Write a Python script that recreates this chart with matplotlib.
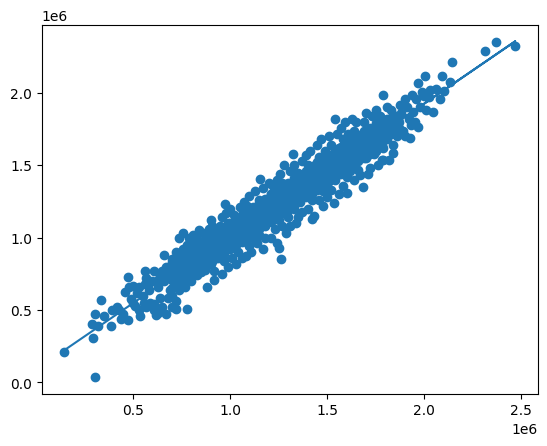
import matplotlib
matplotlib.use("Agg")
import matplotlib.pyplot as plt
import numpy as np

# points, in millions (x, y)
low_pts = [
    (0.147, 0.208), (0.303, 0.035), (0.297, 0.306), (0.289, 0.405), (0.306, 0.475),
    (0.335, 0.572), (0.321, 0.391), (0.353, 0.456), (0.385, 0.391), (0.392, 0.498),
    (0.416, 0.521), (0.437, 0.440), (0.473, 0.729), (0.475, 0.433), (0.461, 0.623),
    (0.491, 0.579), (0.500, 0.549), (0.500, 0.664), (0.539, 0.461), (0.563, 0.769),
    (0.557, 0.549), (0.581, 0.641), (0.608, 0.769), (0.608, 0.502), (0.620, 0.468),
    (0.430, 0.500), (0.450, 0.470), (0.520, 0.620), (0.530, 0.660), (0.550, 0.600),
    (0.570, 0.720), (0.590, 0.550), (0.600, 0.700), (0.630, 0.660),
    (0.640, 0.730), (0.480, 0.660), (0.510, 0.530),
    (0.580, 0.670), (0.630, 0.710),
    (0.640, 0.580), (0.650, 0.520), (0.610, 0.540), (0.560, 0.680),
    (0.530, 0.500), (0.570, 0.520), (0.630, 0.480), (0.650, 0.770),
]

mid_pts = [
    (0.66, 0.88), (0.67, 0.80), (0.68, 0.74), (0.66, 0.70), (0.69, 0.64), (0.68, 0.58),
    (0.70, 0.52), (0.67, 0.47), (0.70, 0.85), (0.69, 0.78), (0.71, 0.70), (0.70, 0.60),
    (0.72, 0.90), (0.74, 1.00), (0.73, 0.84), (0.75, 0.78), (0.72, 0.72), (0.76, 0.70),
    (0.74, 0.64), (0.72, 0.56), (0.72, 0.51), (0.78, 0.51), (0.76, 0.92), (0.75, 0.86),
    (0.77, 0.66), (0.76, 1.03), (0.79, 1.00), (0.78, 0.95), (0.80, 0.90), (0.79, 0.84),
    (0.81, 0.78), (0.78, 0.74), (0.80, 0.70), (0.82, 0.96), (0.81, 1.02), (0.80, 0.83),
    (0.83, 0.74), (0.84, 1.05), (0.86, 1.03), (0.83, 0.99), (0.85, 0.93), (0.86, 0.87),
    (0.84, 0.82), (0.87, 0.78), (0.85, 0.76), (0.88, 0.66), (0.87, 0.98), (0.86, 0.91),
    (0.88, 0.83), (0.89, 1.06), (0.90, 1.12), (0.91, 1.08), (0.89, 1.00), (0.92, 0.95),
    (0.90, 0.90), (0.93, 0.86), (0.90, 0.82), (0.92, 0.77), (0.92, 0.71), (0.94, 1.02),
    (0.93, 0.92), (0.91, 0.84), (0.96, 1.14), (0.975, 1.23), (0.98, 1.17), (0.95, 1.08),
    (0.97, 1.02), (0.96, 0.96), (0.98, 0.92), (0.95, 0.88), (0.97, 0.84), (0.96, 0.75),
    (0.99, 0.80), (0.99, 1.10), (0.98, 0.99), (1.00, 1.20), (1.02, 1.16), (1.01, 1.10),
    (1.03, 1.04), (1.00, 1.00), (1.02, 0.95), (1.04, 0.90), (1.01, 0.86), (1.03, 0.82),
    (1.05, 1.21), (1.04, 1.12), (1.05, 0.98), (1.06, 0.86), (1.07, 1.25), (1.09, 1.22),
    (1.08, 1.15), (1.06, 1.08), (1.09, 1.03), (1.07, 0.98), (1.10, 0.94), (1.08, 0.87),
    (1.10, 1.29), (1.11, 1.12), (1.12, 1.00), (1.11, 0.90), (1.13, 1.32), (1.154, 1.405),
    (1.15, 1.26), (1.14, 1.20), (1.16, 1.14), (1.13, 1.08), (1.15, 1.02), (1.14, 0.96),
    (1.17, 0.92), (1.17, 1.34), (1.18, 1.23), (1.17, 1.10), (1.18, 1.00), (1.20, 1.38),
    (1.22, 1.36), (1.21, 1.30), (1.19, 1.25), (1.22, 1.18), (1.20, 1.12), (1.23, 1.06),
    (1.21, 1.00), (1.24, 0.96), (1.253, 0.926), (1.265, 0.85), (1.24, 1.40), (1.23, 1.24),
    (1.25, 1.12),
]

upper_pts = [
    (1.26, 1.44), (1.28, 1.50), (1.27, 1.38), (1.29, 1.32), (1.26, 1.28), (1.28, 1.20),
    (1.30, 1.14), (1.27, 1.08), (1.29, 1.03), (1.31, 1.46), (1.30, 1.26), (1.31, 1.08),
    (1.324, 1.58), (1.33, 1.50), (1.35, 1.45), (1.32, 1.38), (1.34, 1.32), (1.36, 1.26),
    (1.33, 1.20), (1.35, 1.14), (1.34, 1.10), (1.37, 1.53), (1.37, 1.40), (1.37, 1.18),
    (1.39, 1.57), (1.41, 1.60), (1.40, 1.50), (1.38, 1.44), (1.41, 1.38), (1.39, 1.32),
    (1.42, 1.26), (1.40, 1.20), (1.43, 1.15), (1.42, 1.13), (1.43, 1.46), (1.44, 1.34),
    (1.45, 1.64), (1.47, 1.68), (1.46, 1.56), (1.44, 1.50), (1.47, 1.44), (1.45, 1.38),
    (1.48, 1.32), (1.46, 1.26), (1.48, 1.22), (1.49, 1.60), (1.49, 1.48), (1.50, 1.36),
    (1.51, 1.70), (1.534, 1.238), (1.539, 1.822), (1.52, 1.64), (1.50, 1.58), (1.53, 1.52),
    (1.51, 1.45), (1.54, 1.40), (1.52, 1.33), (1.50, 1.28), (1.55, 1.72), (1.55, 1.56),
    (1.56, 1.30), (1.57, 1.76), (1.59, 1.80), (1.58, 1.68), (1.56, 1.62), (1.59, 1.56),
    (1.57, 1.48), (1.60, 1.42), (1.58, 1.36), (1.60, 1.31), (1.61, 1.72), (1.61, 1.60),
    (1.62, 1.46), (1.63, 1.82), (1.65, 1.80), (1.64, 1.74), (1.62, 1.66), (1.65, 1.60),
    (1.63, 1.53), (1.66, 1.47), (1.64, 1.40), (1.67, 1.43), (1.683, 1.347), (1.67, 1.70),
    (1.67, 1.56), (1.70, 1.86), (1.69, 1.80), (1.71, 1.74), (1.69, 1.66), (1.72, 1.62),
    (1.70, 1.55), (1.72, 1.48), (1.71, 1.44), (1.73, 1.84), (1.73, 1.70), (1.74, 1.58),
]

top_pts = [
    (1.75, 1.88), (1.77, 1.84), (1.76, 1.78), (1.74, 1.72), (1.77, 1.66), (1.75, 1.60),
    (1.78, 1.54), (1.76, 1.50), (1.787, 1.984), (1.79, 1.74), (1.79, 1.62), (1.79, 1.54),
    (1.81, 1.90), (1.83, 1.88), (1.82, 1.80), (1.80, 1.76), (1.83, 1.72), (1.81, 1.68),
    (1.84, 1.64), (1.839, 1.583), (1.82, 1.54), (1.85, 1.84), (1.86, 1.76), (1.86, 1.70),
    (1.876, 1.914), (1.88, 1.86), (1.87, 1.80), (1.89, 1.74), (1.90, 1.70), (1.91, 1.90),
    (1.92, 1.82), (1.925, 1.688), (1.90, 1.96), (1.937, 1.984), (1.94, 1.87), (1.93, 1.78),
    (1.966, 2.069), (2.005, 2.118), (1.987, 2.007), (2.023, 1.972), (1.97, 1.764), (1.96, 1.96),
    (1.98, 1.90), (2.00, 1.98), (2.03, 2.02), (2.047, 1.868), (2.01, 1.88), (1.95, 1.80),
    (2.09, 2.118), (2.143, 2.215), (2.131, 2.076), (2.082, 1.956), (2.104, 2.012), (2.06, 2.03),
    (2.315, 2.292), (2.369, 2.350), (2.468, 2.324),
]

# dense middle of the cloud, where the markers merge into one blob
core_pts = [
    (0.70, 0.65), (0.70, 0.71), (0.70, 0.77), (0.70, 0.83),
    (0.73, 0.67), (0.73, 0.74), (0.73, 0.79), (0.73, 0.86),
    (0.76, 0.70), (0.76, 0.76), (0.76, 0.82), (0.76, 0.88),
    (0.79, 0.73), (0.79, 0.79), (0.79, 0.85), (0.79, 0.91),
    (0.82, 0.75), (0.82, 0.82), (0.82, 0.87), (0.82, 0.94),
    (0.85, 0.78), (0.85, 0.84), (0.85, 0.90), (0.85, 0.96),
    (0.88, 0.81), (0.88, 0.87), (0.88, 0.93), (0.88, 0.99),
    (0.91, 0.84), (0.91, 0.90), (0.91, 0.96), (0.91, 1.02),
    (0.94, 0.86), (0.94, 0.92), (0.94, 0.98), (0.94, 1.05),
    (0.97, 0.89), (0.97, 0.95), (0.97, 1.01), (0.97, 1.07),
    (1.00, 0.92), (1.00, 0.98), (1.00, 1.04), (1.00, 1.10),
    (1.03, 0.95), (1.03, 1.01), (1.03, 1.07), (1.03, 1.13),
    (1.06, 0.97), (1.06, 1.04), (1.06, 1.09), (1.06, 1.16),
    (1.09, 1.00), (1.09, 1.06), (1.09, 1.12), (1.09, 1.19),
    (1.12, 1.03), (1.12, 1.09), (1.12, 1.15), (1.12, 1.21),
    (1.15, 1.06), (1.15, 1.12), (1.15, 1.18), (1.15, 1.24),
    (1.18, 1.08), (1.18, 1.15), (1.18, 1.20), (1.18, 1.27),
    (1.21, 1.11), (1.21, 1.17), (1.21, 1.23), (1.21, 1.30),
    (1.24, 1.14), (1.24, 1.20), (1.24, 1.26), (1.24, 1.32),
    (1.27, 1.17), (1.27, 1.23), (1.27, 1.29), (1.27, 1.35),
    (1.30, 1.19), (1.30, 1.26), (1.30, 1.31), (1.30, 1.38),
    (1.33, 1.22), (1.33, 1.28), (1.33, 1.34), (1.33, 1.41),
    (1.36, 1.25), (1.36, 1.31), (1.36, 1.37), (1.36, 1.43),
    (1.39, 1.28), (1.39, 1.34), (1.39, 1.40), (1.39, 1.46),
    (1.42, 1.30), (1.42, 1.37), (1.42, 1.42), (1.42, 1.49),
    (1.45, 1.33), (1.45, 1.39), (1.45, 1.45), (1.45, 1.52),
    (1.48, 1.36), (1.48, 1.42), (1.48, 1.48), (1.48, 1.54),
    (1.51, 1.39), (1.51, 1.45), (1.51, 1.51), (1.51, 1.57),
    (1.54, 1.41), (1.54, 1.48), (1.54, 1.53), (1.54, 1.60),
    (1.57, 1.44), (1.57, 1.50), (1.57, 1.56), (1.57, 1.63),
    (1.60, 1.47), (1.60, 1.53), (1.60, 1.59), (1.60, 1.65),
    (1.63, 1.50), (1.63, 1.56), (1.63, 1.62), (1.63, 1.68),
    (1.66, 1.53), (1.66, 1.59), (1.66, 1.65), (1.66, 1.71),
    (1.69, 1.55), (1.69, 1.62), (1.69, 1.67), (1.69, 1.74),
    (1.72, 1.58), (1.72, 1.64), (1.72, 1.70), (1.72, 1.76),
    (1.75, 1.61), (1.75, 1.67), (1.75, 1.73), (1.75, 1.79),
    (1.78, 1.64), (1.78, 1.70), (1.78, 1.76), (1.78, 1.82),
    (1.81, 1.70), (1.81, 1.76), (1.81, 1.82),
    (1.84, 1.73), (1.84, 1.79), (1.84, 1.85),
    (1.87, 1.76), (1.87, 1.84),
]

# second layer of the blob, between the rows above
fill_pts = [
    (0.715, 0.70), (0.715, 0.80), (0.745, 0.73), (0.745, 0.83), (0.775, 0.75), (0.775, 0.85),
    (0.805, 0.78), (0.805, 0.88), (0.835, 0.81), (0.835, 0.91), (0.865, 0.84), (0.865, 0.94),
    (0.895, 0.86), (0.895, 0.96), (0.925, 0.89), (0.925, 0.99), (0.955, 0.92), (0.955, 1.02),
    (0.985, 0.95), (0.985, 1.05), (1.015, 0.97), (1.015, 1.07), (1.045, 1.00), (1.045, 1.10),
    (1.075, 1.03), (1.075, 1.13), (1.105, 1.06), (1.105, 1.16), (1.135, 1.09), (1.135, 1.19),
    (1.165, 1.11), (1.165, 1.21), (1.195, 1.14), (1.195, 1.24), (1.225, 1.17), (1.225, 1.27),
    (1.255, 1.20), (1.255, 1.30), (1.285, 1.22), (1.285, 1.32), (1.315, 1.25), (1.315, 1.35),
    (1.345, 1.28), (1.345, 1.38), (1.375, 1.31), (1.375, 1.41), (1.405, 1.33), (1.405, 1.43),
    (1.435, 1.36), (1.435, 1.46), (1.465, 1.39), (1.465, 1.49), (1.495, 1.42), (1.495, 1.52),
    (1.525, 1.44), (1.525, 1.55), (1.555, 1.47), (1.555, 1.57), (1.585, 1.50), (1.585, 1.60),
    (1.615, 1.53), (1.615, 1.63), (1.645, 1.55), (1.645, 1.66), (1.675, 1.58), (1.675, 1.68),
    (1.705, 1.61), (1.705, 1.71), (1.735, 1.64), (1.735, 1.74), (1.765, 1.67), (1.765, 1.77),
    (1.795, 1.69), (1.795, 1.79), (1.825, 1.72), (1.825, 1.82),
]

pts = np.array(low_pts + mid_pts + upper_pts + top_pts + core_pts + fill_pts) * 1e6
x = pts[:, 0]
y = pts[:, 1]

m, b = np.polyfit(x, y, 1)

fig, ax = plt.subplots(figsize=(6.4, 4.8), dpi=100)
ax.scatter(x, y)
ax.plot(x, m * x + b)

fig.savefig("out.png", bbox_inches="tight")
